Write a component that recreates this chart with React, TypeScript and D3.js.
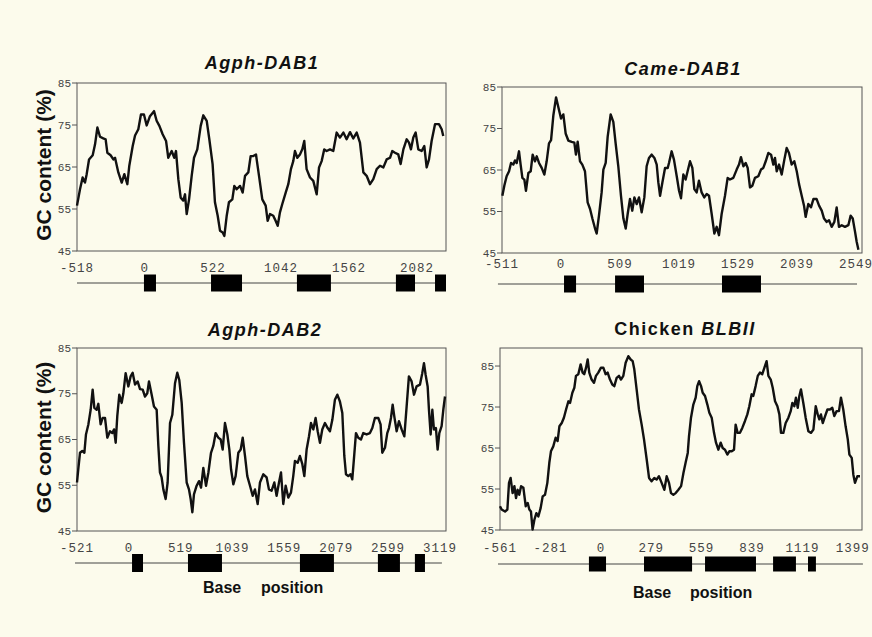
import React from 'react';
import * as d3 from 'd3';

// GC content traces, [base position, GC %]
const agphDab1Gc: [number, number][] = [
  [-518, 55.8], [-495, 59.7], [-475, 62.5], [-457, 61.3], [-444, 63.3], [-426, 66.8], [-398, 67.8], [-380, 70.4],
  [-362, 74.4], [-342, 72.2], [-317, 71.8], [-299, 71.6], [-286, 68.4], [-261, 67.8], [-240, 66.8], [-227, 67.2],
  [-202, 63.7], [-176, 61.3], [-156, 63.3], [-133, 60.9], [-118, 65.3], [-92, 70], [-74, 72.5], [-49, 74],
  [-29, 77.5], [-6, 77.5], [15, 74.9], [40, 77.1], [71, 78.3], [91, 76], [112, 74.8], [137, 72.8],
  [163, 71.2], [180, 67.2], [206, 68.8], [226, 67.2], [239, 68.8], [257, 62.1], [275, 57.7], [295, 57],
  [308, 58.5], [321, 53.8], [339, 57.3], [359, 62.9], [377, 67.2], [402, 69.2], [428, 74.8], [448, 77.3],
  [474, 76], [494, 71.6], [519, 65.7], [537, 56.6], [558, 53.4], [576, 49.8], [596, 49.4], [609, 48.6],
  [627, 53.4], [644, 56.6], [670, 57.3], [685, 60.5], [703, 59.7], [729, 60.5], [749, 58.9], [767, 62.9],
  [792, 63.7], [810, 67.6], [830, 67.6], [851, 68], [856, 66.8], [874, 62.9], [899, 57.3], [925, 55.8],
  [940, 52.2], [958, 53.8], [983, 53.4], [1001, 52.2], [1017, 51], [1034, 54.2], [1052, 56.2], [1078, 58.9],
  [1098, 60.9], [1118, 64.5], [1136, 66.4], [1149, 68.8], [1167, 67.2], [1187, 68], [1205, 69.2], [1220, 71.2],
  [1238, 64.5], [1264, 62.5], [1289, 61.7], [1315, 58.5], [1333, 64.9], [1353, 66.4], [1373, 69.2], [1391, 68.8],
  [1417, 69.2], [1442, 68.8], [1468, 73.2], [1493, 72], [1519, 73.2], [1544, 71.6], [1570, 73.3], [1595, 71.8],
  [1621, 73.2], [1646, 70.8], [1672, 63.7], [1697, 62.9], [1723, 60.9], [1748, 62.1], [1774, 64.5], [1799, 65.3],
  [1825, 64.9], [1850, 66.8], [1876, 67.2], [1893, 68.8], [1914, 68.4], [1939, 68], [1957, 65.7], [1978, 69.2],
  [2003, 71.6], [2021, 70.8], [2036, 69.2], [2054, 72], [2072, 73.2], [2092, 69.2], [2118, 68.8], [2138, 70],
  [2156, 64.9], [2174, 66.8], [2194, 71.2], [2220, 75.2], [2250, 75.2], [2271, 74], [2283, 72.4],
];

const cameDab1Gc: [number, number][] = [
  [-508, 58.8], [-491, 61.2], [-471, 63.5], [-450, 64.7], [-433, 66.7], [-413, 66.3], [-399, 67.3], [-384, 66.7],
  [-364, 69.5], [-350, 66.3], [-335, 63.1], [-318, 62.7], [-304, 60], [-283, 64.3], [-263, 64.7], [-246, 68.7],
  [-226, 67.1], [-211, 68.3], [-191, 66.7], [-168, 65.5], [-145, 63.9], [-125, 67.1], [-105, 71.4], [-87, 72.2],
  [-67, 78.2], [-44, 82.5], [-24, 80.1], [-1, 77.4], [19, 78.4], [39, 73.8], [62, 72.1], [91, 71.8],
  [114, 71.6], [128, 68.7], [143, 71.8], [163, 67.1], [183, 66.3], [206, 64.7], [229, 57.2], [250, 55.6],
  [270, 53.3], [293, 50.9], [307, 49.7], [327, 54], [350, 59.6], [365, 65.1], [385, 66.7], [402, 73],
  [428, 78.4], [451, 76.6], [471, 71.4], [494, 65.9], [517, 58.8], [538, 53.3], [558, 50.9], [575, 54.4],
  [595, 58], [615, 55.2], [633, 58.4], [653, 56.8], [673, 58.4], [696, 54.8], [719, 58.4], [739, 65.9],
  [759, 67.9], [783, 68.7], [806, 67.9], [826, 66.3], [840, 62], [855, 58.8], [875, 62], [898, 65.5],
  [921, 65.5], [932, 66.7], [955, 69.5], [975, 67.5], [999, 63.5], [1019, 60], [1036, 58.2], [1056, 63.9],
  [1076, 62.7], [1093, 64.7], [1114, 67.1], [1134, 65.5], [1151, 60.4], [1171, 59.6], [1191, 62.4], [1214, 59.6],
  [1237, 58.4], [1258, 59.2], [1278, 58.8], [1301, 54.4], [1324, 49.7], [1344, 51.3], [1364, 49.3], [1387, 54.4],
  [1416, 58.8], [1439, 63.1], [1459, 62.7], [1488, 63.1], [1517, 65.1], [1537, 66.3], [1554, 68.1], [1575, 65.9],
  [1595, 66.7], [1612, 65.5], [1632, 60.8], [1652, 61.2], [1675, 63.1], [1704, 63.5], [1727, 65.1], [1747, 65.5],
  [1768, 67.1], [1791, 69.1], [1814, 68.7], [1834, 66.3], [1848, 67.9], [1863, 64.7], [1883, 66.3], [1906, 63.9],
  [1929, 67.5], [1949, 70.3], [1969, 69.1], [1992, 66.3], [2015, 67.1], [2036, 64.7], [2056, 61.6], [2079, 58.8],
  [2099, 56.4], [2113, 53.7], [2136, 56.8], [2159, 56], [2180, 58], [2208, 58], [2229, 56.4], [2252, 55.2],
  [2272, 53.3], [2295, 52.5], [2315, 52.9], [2338, 51.3], [2361, 52.5], [2381, 56], [2401, 51.3], [2425, 51.7],
  [2453, 51.3], [2482, 51.7], [2502, 54], [2520, 53.3], [2540, 50.1], [2554, 47.7], [2569, 45.8],
];

const agphDab2Gc: [number, number][] = [
  [-521, 55.6], [-508, 58.5], [-491, 62.1], [-468, 62.5], [-447, 62.1], [-431, 66.1], [-407, 68.3], [-384, 71.5],
  [-364, 75.9], [-347, 71.9], [-324, 71.5], [-307, 72.8], [-284, 68.3], [-264, 69.7], [-240, 69.7], [-217, 65.4],
  [-190, 66.8], [-167, 66.4], [-150, 67.2], [-133, 64.3], [-117, 70.1], [-97, 74.8], [-73, 73], [-56, 75.1],
  [-33, 79.5], [-6, 76.6], [17, 78.8], [37, 79.6], [61, 77], [87, 77.7], [111, 76], [138, 75.9],
  [161, 74.4], [184, 75.1], [201, 77.7], [228, 74.8], [251, 72.2], [278, 71.5], [295, 63.6], [311, 57.8],
  [328, 56.7], [345, 54.1], [368, 52], [388, 55.6], [412, 68.6], [435, 70.4], [462, 77.3], [485, 79.6],
  [505, 78], [529, 73], [552, 64.3], [579, 55.6], [602, 54.1], [619, 52], [636, 49.1], [652, 53],
  [679, 54.9], [703, 55.9], [723, 54.5], [746, 58.8], [773, 54.9], [797, 57.8], [823, 62.1], [846, 63.6],
  [870, 66.4], [896, 65.4], [920, 65], [940, 62.8], [963, 68.6], [987, 66.1], [1007, 62.8], [1024, 58.5],
  [1047, 55.2], [1070, 57], [1097, 62.1], [1121, 62.8], [1141, 65.4], [1164, 61.4], [1187, 57], [1214, 54.9],
  [1241, 52.7], [1264, 54.1], [1291, 50.9], [1314, 55.6], [1348, 57.4], [1381, 56.7], [1404, 54.1], [1431, 53.8],
  [1458, 55.6], [1481, 52.7], [1505, 55.6], [1525, 57.8], [1548, 50.9], [1572, 54.9], [1598, 52.3], [1625, 53.4],
  [1648, 57], [1665, 60.3], [1692, 59.9], [1715, 61.4], [1739, 59.6], [1759, 57], [1782, 62.8], [1806, 65.7],
  [1826, 68.6], [1849, 67.2], [1872, 69.7], [1893, 66.8], [1916, 64.3], [1939, 67.2], [1966, 68.6], [1993, 67.5],
  [2016, 66.8], [2040, 69.3], [2066, 73.7], [2090, 74.8], [2116, 73.3], [2140, 70.8], [2160, 61.4], [2177, 57.4],
  [2200, 57], [2223, 57.4], [2240, 56.3], [2260, 61.7], [2277, 66.4], [2300, 65.4], [2327, 65], [2350, 66.4],
  [2384, 66.1], [2417, 66.4], [2441, 67.5], [2467, 69.7], [2501, 69.7], [2524, 68.3], [2541, 62.1], [2568, 63.2],
  [2591, 66.4], [2608, 67.5], [2628, 69.7], [2645, 72.6], [2661, 70.1], [2685, 66.8], [2708, 69], [2735, 67.2],
  [2762, 65.7], [2785, 72.2], [2808, 78.8], [2835, 77.7], [2859, 74.8], [2885, 76.6], [2919, 77], [2942, 79.5],
  [2959, 81.7], [2976, 79.1], [2996, 76.6], [3009, 71.5], [3026, 66.1], [3043, 71.5], [3059, 67.2], [3079, 67.5],
  [3096, 62.8], [3113, 66.4], [3136, 67.9], [3153, 71.5], [3170, 74.4],
];

const chickenBlbiiGc: [number, number][] = [
  [-561, 50.8], [-552, 50], [-533, 49.5], [-520, 50], [-511, 56.5], [-502, 57.7], [-491, 54], [-481, 55.7],
  [-472, 52.8], [-463, 54.8], [-454, 53.6], [-444, 55.7], [-431, 55.3], [-418, 50.8], [-407, 51.6], [-398, 50],
  [-389, 49.5], [-380, 45.1], [-370, 47.5], [-359, 49.1], [-348, 48.3], [-335, 50.4], [-324, 53.2], [-311, 53.6],
  [-298, 56.5], [-287, 61.4], [-278, 64.2], [-265, 65.4], [-252, 67.5], [-241, 66.7], [-231, 70.3], [-218, 71.1],
  [-206, 72.4], [-194, 74.4], [-181, 76.4], [-172, 76], [-159, 78.5], [-148, 79.7], [-139, 82.6], [-126, 83],
  [-113, 85.4], [-102, 83.4], [-93, 83], [-83, 84.6], [-74, 86.6], [-65, 83.4], [-52, 81.7], [-39, 80.9],
  [-28, 82.6], [-15, 83.4], [0, 84.6], [13, 84.6], [26, 83], [37, 83.4], [50, 81.7], [63, 80.5],
  [74, 80.1], [87, 82.1], [100, 82.6], [111, 81.7], [124, 82.6], [137, 85.8], [152, 87.4], [165, 86.6],
  [176, 86.2], [185, 84.2], [198, 79.3], [211, 74.4], [226, 70.7], [239, 67.1], [254, 62.2], [267, 57.7],
  [281, 56.9], [296, 57.7], [309, 57.3], [322, 58.1], [337, 56.5], [352, 54.8], [365, 58.1], [378, 56.5],
  [389, 54], [402, 53.6], [415, 54], [430, 54.8], [445, 55.7], [458, 58.9], [470, 61.4], [482, 63.8],
  [489, 67.9], [500, 72.4], [513, 75.6], [526, 77.3], [535, 80.1], [545, 81.3], [556, 80.1], [565, 78.5],
  [578, 77.7], [591, 75.6], [602, 73.6], [615, 72.4], [628, 68.7], [639, 66.3], [652, 64.6], [665, 66.3],
  [676, 65], [689, 64.6], [702, 63.4], [713, 64.2], [726, 64.2], [739, 64.6], [748, 70.7], [759, 68.7],
  [772, 68.7], [785, 69.9], [800, 71.6], [813, 73.2], [824, 75.2], [837, 78.1], [846, 77.7], [859, 80.1],
  [871, 82.6], [883, 83.4], [896, 83], [908, 84.6], [920, 86.2], [930, 82.6], [943, 81.7], [954, 79.7],
  [967, 76.4], [980, 75.2], [991, 73.2], [1000, 68.7], [1013, 68.7], [1026, 71.1], [1041, 72.4], [1054, 74],
  [1063, 76], [1074, 75.2], [1083, 77.3], [1093, 74.8], [1102, 77.7], [1111, 79.3], [1124, 76], [1137, 72.4],
  [1152, 69.1], [1167, 68.7], [1180, 69.5], [1193, 75.2], [1204, 73.2], [1213, 72], [1222, 73.2], [1232, 71.1],
  [1245, 72.8], [1258, 74.4], [1272, 74.4], [1285, 74.8], [1296, 72.8], [1309, 74], [1322, 74], [1333, 77.3],
  [1346, 74.4], [1359, 70.3], [1371, 67.1], [1380, 63.4], [1393, 62.6], [1402, 58.5], [1411, 56.5], [1424, 58.1],
  [1439, 58.1],
];

// exons as [start, end] base positions
const agphDab1Exons: [number, number][] = [[-6, 86], [507, 744], [1164, 1424], [1921, 2067], [2220, 2304]];
const cameDab1Exons: [number, number][] = [[25, 129], [466, 716], [1390, 1727]];
const agphDab2Exons: [number, number][] = [[31, 141], [592, 933], [1715, 2056], [2497, 2718], [2868, 2969]];
const chickenBlbiiExons: [number, number][] = [[-67, 28], [239, 506], [578, 861], [956, 1083], [1150, 1194]];

const agphDab1Ticks = [-518, 0, 522, 1042, 1562, 2082];
const cameDab1Ticks = [-511, 0, 509, 1019, 1529, 2039, 2549];
const agphDab2Ticks = [-521, 0, 519, 1039, 1559, 2079, 2599, 3119];
const chickenBlbiiTicks = [-561, -281, 0, 279, 559, 839, 1119, 1399];
const gcTicks = [45, 55, 65, 75, 85];

const BG = '#fcfbec';
const MONO = '"Liberation Mono", "DejaVu Sans Mono", monospace';
const SANS = '"Liberation Sans", Arial, sans-serif';

type Panel = {
  title: React.ReactNode;
  data: [number, number][];
  exons: [number, number][];
  xTicks: number[];
  xDomain: [number, number];
  yDomain: [number, number];
  geneSpan: [number, number];
  box: { x0: number; x1: number; y0: number; y1: number };
  titleY: number;
  titleX: number;
  labelY: number;
  geneY: number;
  exonH: number;
  base?: { y: number; x1: number; x2: number };
  gcLabel?: boolean;
};

const panels: Panel[] = [
  {
    title: <tspan fontStyle="italic">Agph-DAB1</tspan>,
    data: agphDab1Gc, exons: agphDab1Exons, xTicks: agphDab1Ticks,
    xDomain: [-518, 2304], yDomain: [45, 85], geneSpan: [-518, 2304],
    box: { x0: 77, x1: 446, y0: 83, y1: 251 }, titleX: 262, titleY: 69, labelY: 272, geneY: 283, exonH: 17,
    gcLabel: true,
  },
  {
    title: <tspan fontStyle="italic">Came-DAB1</tspan>,
    data: cameDab1Gc, exons: cameDab1Exons, xTicks: cameDab1Ticks,
    xDomain: [-511, 2600], yDomain: [45, 85], geneSpan: [-546, 2557],
    box: { x0: 502, x1: 862, y0: 87, y1: 253 }, titleX: 683, titleY: 75, labelY: 268, geneY: 284, exonH: 17,
  },
  {
    title: <tspan fontStyle="italic">Agph-DAB2</tspan>,
    data: agphDab2Gc, exons: agphDab2Exons, xTicks: agphDab2Ticks,
    xDomain: [-521, 3180], yDomain: [45, 85], geneSpan: [-541, 3139],
    box: { x0: 77, x1: 446, y0: 348, y1: 531 }, titleX: 265, titleY: 336, labelY: 552, geneY: 563, exonH: 18,
    base: { y: 593, x1: 203, x2: 261 }, gcLabel: true,
  },
  {
    title: <><tspan>Chicken </tspan><tspan fontStyle="italic">BLBII</tspan></>,
    data: chickenBlbiiGc, exons: chickenBlbiiExons, xTicks: chickenBlbiiTicks,
    xDomain: [-561, 1450], yDomain: [45, 89.4], geneSpan: [-572, 1455],
    box: { x0: 500, x1: 862, y0: 348, y1: 530 }, titleX: 685, titleY: 335, labelY: 552, geneY: 564, exonH: 15,
    base: { y: 598, x1: 633, x2: 690 },
  },
];

function GcPanel({ p }: { p: Panel }) {
  const { box } = p;
  const x = d3.scaleLinear().domain(p.xDomain).range([box.x0, box.x1]);
  const y = d3.scaleLinear().domain(p.yDomain).range([box.y1, box.y0]);
  const line = d3.line<[number, number]>().x(d => x(d[0])).y(d => y(d[1]));
  return (
    <g>
      <text x={p.titleX} y={p.titleY} textAnchor="middle" fontFamily={SANS} fontWeight="bold" fontSize={18}
        letterSpacing={1.5} fill="#111">{p.title}</text>
      <rect x={box.x0} y={box.y0} width={box.x1 - box.x0} height={box.y1 - box.y0} fill="none" stroke="#555" strokeWidth={1} />
      {gcTicks.map(t => (
        <g key={t}>
          <line x1={box.x0 - 5} x2={box.x0} y1={y(t)} y2={y(t)} stroke="#555" />
          <text x={box.x0 - 6} y={y(t) + 3.5} textAnchor="end" fontFamily={MONO} fontSize={11} fill="#444">{t}</text>
        </g>
      ))}
      {p.xTicks.map(t => (
        <text key={t} x={x(t)} y={p.labelY} textAnchor="middle" fontFamily={MONO} fontSize={12.5} letterSpacing={1} fill="#444">{t}</text>
      ))}
      <path d={line(p.data) || ''} fill="none" stroke="#111" strokeWidth={2.4} strokeLinejoin="round" />
      <line x1={x(p.geneSpan[0])} x2={x(p.geneSpan[1])} y1={p.geneY} y2={p.geneY} stroke="#444" strokeWidth={1} />
      {p.exons.map((e, i) => (
        <rect key={i} x={x(e[0])} y={p.geneY - p.exonH / 2} width={x(e[1]) - x(e[0])} height={p.exonH} fill="#000" />
      ))}
      {p.gcLabel && (
        <text transform={`translate(51,${(box.y0 + box.y1) / 2 - 2}) rotate(-90)`} textAnchor="middle" fontFamily={SANS}
          fontWeight="bold" fontSize={21} fill="#111">GC content (%)</text>
      )}
      {p.base && (
        <g fontFamily={SANS} fontWeight="bold" fontSize={16} fill="#111">
          <text x={p.base.x1} y={p.base.y}>Base</text>
          <text x={p.base.x2} y={p.base.y}>position</text>
        </g>
      )}
    </g>
  );
}

export default function App() {
  return (
    <svg width={872} height={637} style={{ position: 'absolute', left: 0, top: 0 }}>
      <rect width={872} height={637} fill={BG} />
      {panels.map((p, i) => <GcPanel key={i} p={p} />)}
    </svg>
  );
}
